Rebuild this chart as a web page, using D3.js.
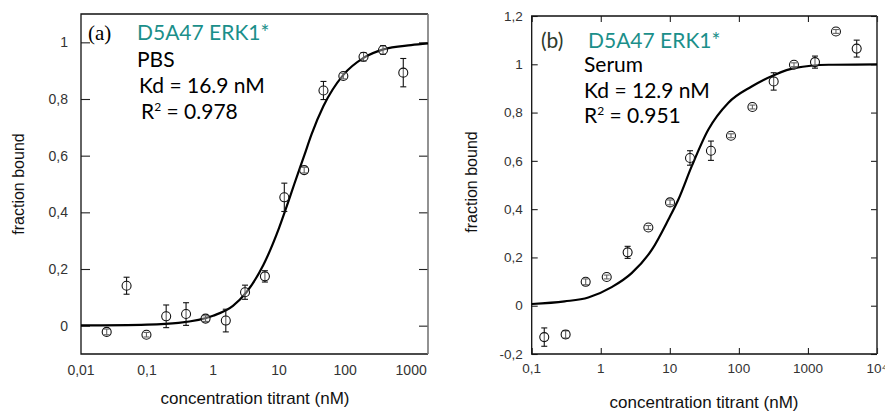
<!DOCTYPE html>
<html>
<head>
<meta charset="utf-8">
<script src="https://cdn.jsdelivr.net/npm/d3@7"></script>
<style>
  body { margin: 0; background: #fff; }
  svg { display: block; }
</style>
</head>
<body>
<div id="chart"></div>
<script>
const width = 885,
    height = 411;

// panel (a) - PBS
const concA = [0.0245, 0.049, 0.098, 0.195, 0.39, 0.77, 1.56, 3.05, 6.1, 12, 24, 47, 94, 190, 375, 760];
const fracA = [-0.022, 0.141, -0.032, 0.033, 0.041, 0.025, 0.018, 0.118, 0.174, 0.453, 0.549, 0.83, 0.881, 0.949, 0.973, 0.893];
const errA = [0.01, 0.03, 0.008, 0.04, 0.04, 0.01, 0.04, 0.025, 0.02, 0.05, 0.01, 0.032, 0.01, 0.015, 0.015, 0.05];
const fitConcA = [0.01, 0.1, 0.3, 1, 2, 3.2, 5.8, 10, 13, 17, 24, 31, 47, 94, 190, 380, 1000, 1800];
const fitFracA = [0.001, 0.004, 0.01, 0.035, 0.07, 0.118, 0.215, 0.345, 0.42, 0.5, 0.6, 0.675, 0.775, 0.885, 0.945, 0.975, 0.99, 0.996];
const xTicksA = [0.01, 0.1, 1, 10, 100, 1000];
const xTickLabelsA = ["0,01", "0,1", "1", "10", "100", "1000"];
const yTicksA = [0, 0.2, 0.4, 0.6, 0.8, 1];
const yTickLabelsA = ["0", "0,2", "0,4", "0,6", "0,8", "1"];
const textA = ["(a)", "D5A47 ERK1*", "PBS", "Kd = 16.9 nM", "0.978"];

// panel (b) - Serum
const concB = [0.152, 0.31, 0.605, 1.22, 2.45, 4.89, 10.07, 19.6, 39.4, 76.9, 157, 319, 628, 1265, 2545, 5080];
const fracB = [-0.130, -0.119, 0.099, 0.119, 0.221, 0.324, 0.428, 0.612, 0.642, 0.704, 0.823, 0.929, 0.998, 1.009, 1.136, 1.065];
const errB = [0.038, 0.015, 0.012, 0.008, 0.025, 0.008, 0.01, 0.03, 0.04, 0.008, 0.008, 0.036, 0.008, 0.025, 0.008, 0.035];
const fitConcB = [0.1, 0.3, 0.66, 1.44, 2.8, 5.5, 9.5, 13.3, 20.7, 36, 70, 153, 333, 650, 2000, 10000];
const fitFracB = [0.007, 0.018, 0.034, 0.077, 0.135, 0.232, 0.356, 0.44, 0.577, 0.729, 0.84, 0.908, 0.957, 0.985, 0.998, 1.0];
const xTicksB = [0.1, 1, 10, 100, 1000, 10000];
const xTickLabelsB = ["0,1", "1", "10", "100", "1000", "10⁴"];
const yTicksB = [-0.2, 0, 0.2, 0.4, 0.6, 0.8, 1, 1.2];
const yTickLabelsB = ["-0,2", "0", "0,2", "0,4", "0,6", "0,8", "1", "1,2"];
const textB = ["(b)", "D5A47 ERK1*", "Serum", "Kd = 12.9 nM", "0.951"];

const teal = "#1b8f8a";
const tickFont = "'Liberation Sans', Arial, sans-serif";
const labelFont = "Lato, 'Open Sans', sans-serif";

const svg = d3.select("#chart")
    .append("svg")
    .attr("width", width)
    .attr("height", height);

function drawPanel(p) {
    const x = d3.scaleLog().domain(p.xDomain).range([p.left, p.right]);
    const y = d3.scaleLinear().domain(p.yDomain).range([p.bottom, p.top]);
    const g = svg.append("g");

    // ticks (pointing inward)
    const yAxisL = d3.axisRight(y).tickValues(p.yTicks).tickSize(p.tick).tickFormat("");
    const yAxisR = d3.axisLeft(y).tickValues(p.yTicks).tickSize(p.tick).tickFormat("");
    g.append("g").attr("transform", `translate(${p.left},0)`).call(yAxisL);
    g.append("g").attr("transform", `translate(${p.right},0)`).call(yAxisR);
    if (p.xTickMarks) {
        g.append("g").attr("transform", `translate(0,${p.bottom})`)
            .call(d3.axisTop(x).tickValues(p.xTicks).tickSize(p.tick).tickFormat(""));
        g.append("g").attr("transform", `translate(0,${p.top})`)
            .call(d3.axisBottom(x).tickValues(p.xTicks).tickSize(p.tick).tickFormat(""));
    }
    g.selectAll(".domain").remove();
    g.selectAll(".tick line").attr("stroke", "#222").attr("stroke-width", 1.1);

    // frame
    g.append("path")
        .attr("d", `M${p.right},${p.top}H${p.left}V${p.bottom}H${p.right}`)
        .attr("fill", "none").attr("stroke", "#111").attr("stroke-width", 1.3);
    g.append("line")
        .attr("x1", p.right).attr("x2", p.right).attr("y1", p.top).attr("y2", p.bottom)
        .attr("stroke", p.rightColor).attr("stroke-width", 1.6);

    // tick labels
    g.selectAll(".ylab").data(p.yTicks).enter().append("text")
        .attr("x", p.left - p.yLabGap)
        .attr("y", d => y(d))
        .attr("dy", "0.35em")
        .attr("text-anchor", "end")
        .style("font-family", tickFont).style("font-size", p.tickSize + "px")
        .attr("fill", "#333")
        .text((d, i) => p.yTickLabels[i]);
    g.selectAll(".xlab").data(p.xTicks).enter().append("text")
        .attr("x", d => x(d))
        .attr("y", p.xLabY)
        .attr("text-anchor", "middle")
        .style("font-family", tickFont).style("font-size", p.tickSize + "px")
        .attr("fill", "#333")
        .text((d, i) => p.xTickLabels[i]);

    // axis titles
    g.append("text")
        .attr("transform", `translate(${p.yTitleX},${p.yTitleY}) rotate(-90)`)
        .attr("text-anchor", "middle")
        .style("font-family", tickFont).style("font-size", "16px")
        .attr("fill", "#111")
        .text("fraction bound");
    g.append("text")
        .attr("x", p.xTitleX).attr("y", p.xTitleY)
        .attr("text-anchor", "middle")
        .style("font-family", tickFont).style("font-size", "17px")
        .attr("fill", "#111")
        .text("concentration titrant (nM)");

    // fit curve
    const fit = p.fitConc.map((c, i) => [c, p.fitFrac[i]]);
    g.append("path")
        .datum(fit)
        .attr("fill", "none")
        .attr("stroke", "#000")
        .attr("stroke-width", 2.2)
        .attr("d", d3.line().x(d => x(d[0])).y(d => y(d[1])).curve(d3.curveMonotoneX));

    // points with error bars
    const pts = p.conc.map((c, i) => ({ c: c, f: p.frac[i], e: p.err[i] }));
    const pg = g.selectAll(".pt").data(pts).enter().append("g")
        .attr("stroke", "#111").attr("stroke-width", 1.1).attr("fill", "none");
    pg.append("line")
        .attr("x1", d => x(d.c)).attr("x2", d => x(d.c))
        .attr("y1", d => y(d.f - d.e)).attr("y2", d => y(d.f + d.e));
    pg.append("line")
        .attr("x1", d => x(d.c) - 3).attr("x2", d => x(d.c) + 3)
        .attr("y1", d => y(d.f - d.e)).attr("y2", d => y(d.f - d.e));
    pg.append("line")
        .attr("x1", d => x(d.c) - 3).attr("x2", d => x(d.c) + 3)
        .attr("y1", d => y(d.f + d.e)).attr("y2", d => y(d.f + d.e));
    pg.append("circle")
        .attr("cx", d => x(d.c)).attr("cy", d => y(d.f))
        .attr("r", 4.5)
        .attr("fill", "rgba(255,255,255,0.35)");

    // annotation text
    const t = p.text;
    g.append("text")
        .attr("x", p.tagX).attr("y", p.tagY)
        .style("font-family", p.tagFont).style("font-size", p.tagSize + "px")
        .attr("fill", p.tagColor)
        .text(t[0]);
    g.append("text")
        .attr("x", p.titleX).attr("y", p.tagY)
        .style("font-family", labelFont).style("font-size", "21px")
        .attr("fill", teal)
        .text(t[1]);
    g.append("text")
        .attr("x", p.line2X).attr("y", p.line2Y)
        .style("font-family", labelFont).style("font-size", "21px")
        .attr("fill", "#000")
        .text(t[2]);
    g.append("text")
        .attr("x", p.line3X).attr("y", p.line3Y)
        .style("font-family", labelFont).style("font-size", "21px")
        .attr("fill", "#000")
        .text(t[3]);
    const r2 = g.append("text")
        .attr("x", p.line4X).attr("y", p.line4Y)
        .style("font-family", labelFont).style("font-size", "21px")
        .attr("fill", "#000");
    r2.append("tspan").text("R");
    r2.append("tspan").attr("dy", -8).style("font-size", "12px").text("2");
    r2.append("tspan").attr("dy", 8).text(" = " + t[4]);
}

drawPanel({
    conc: concA, frac: fracA, err: errA, fitConc: fitConcA, fitFrac: fitFracA,
    xDomain: [0.01, 1800], yDomain: [-0.1, 1.1],
    left: 81, right: 428, top: 14, bottom: 354,
    xTicks: xTicksA, xTickLabels: xTickLabelsA, yTicks: yTicksA, yTickLabels: yTickLabelsA,
    xTickMarks: false, tick: 9, rightColor: "#777",
    tickSize: 14, yLabGap: 13, xLabY: 375,
    yTitleX: 24, yTitleY: 184, xTitleX: 255, xTitleY: 404,
    text: textA,
    tagX: 88, tagY: 40, tagFont: "'Liberation Serif', 'DejaVu Serif', serif", tagSize: 21, tagColor: "#000",
    titleX: 137, line2X: 137, line2Y: 67, line3X: 139, line3Y: 93, line4X: 141, line4Y: 119
});

drawPanel({
    conc: concB, frac: fracB, err: errB, fitConc: fitConcB, fitFrac: fitFracB,
    xDomain: [0.1, 10000], yDomain: [-0.2, 1.2],
    left: 531.7, right: 877, top: 16, bottom: 354,
    xTicks: xTicksB, xTickLabels: xTickLabelsB, yTicks: yTicksB, yTickLabels: yTickLabelsB,
    xTickMarks: true, tick: 6, rightColor: "#333",
    tickSize: 13.5, yLabGap: 9, xLabY: 373,
    yTitleX: 477, yTitleY: 182, xTitleX: 704, xTitleY: 408,
    text: textB,
    tagX: 541, tagY: 48, tagFont: labelFont, tagSize: 21, tagColor: "#2e3a2c",
    titleX: 588, line2X: 584, line2Y: 72, line3X: 584, line3Y: 98, line4X: 584, line4Y: 123
});
</script>
</body>
</html>
